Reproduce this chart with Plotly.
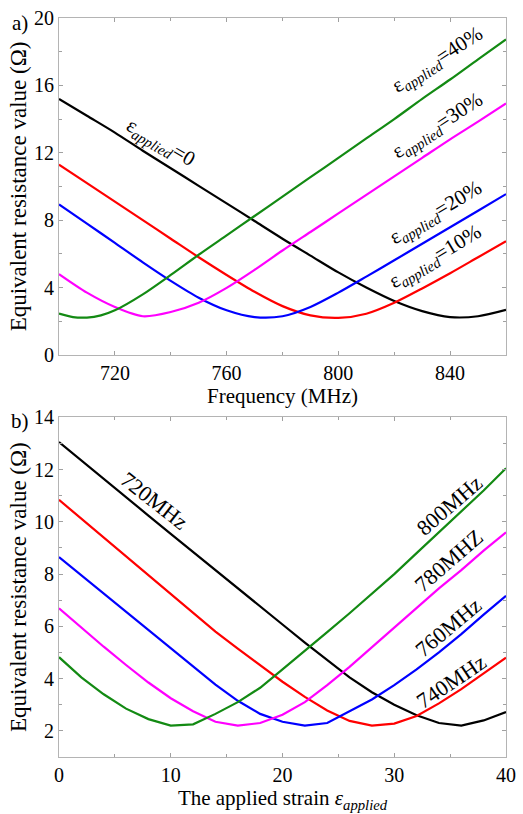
import plotly.graph_objects as go

# ---------------- Data: panel a) ----------------
freq = [700, 710, 720, 730, 740, 750, 760, 770, 780, 790, 800, 810, 820, 830, 840, 850, 860]
r_strain0 = [15.2, 14.2, 13.2, 12.12, 11.08, 10.04, 9.0, 7.95, 6.9, 5.9, 4.9, 4.0, 3.2, 2.6, 2.25, 2.3, 2.68]
r_strain10 = [11.3, 10.2, 9.1, 8.0, 6.9, 5.8, 4.75, 3.75, 2.9, 2.35, 2.2, 2.45, 3.1, 3.95, 4.85, 5.8, 6.75]
r_strain20 = [8.93, 7.8, 6.65, 5.5, 4.4, 3.4, 2.65, 2.25, 2.3, 2.85, 3.7, 4.65, 5.62, 6.6, 7.58, 8.56, 9.55]
r_strain30 = [4.8, 3.7, 2.85, 2.3, 2.55, 3.1, 3.98, 5.05, 6.2, 7.3, 8.4, 9.5, 10.6, 11.7, 12.8, 13.85, 14.93]
freq_g = [700, 705, 710, 715, 720, 730, 740, 750, 760, 770, 780, 790, 800, 810, 820, 830, 840, 850, 860]
r_strain40 = [2.46, 2.25, 2.22, 2.35, 2.65, 3.6, 4.75, 5.95, 7.1, 8.25, 9.4, 10.55, 11.7, 12.85, 14.0, 15.2, 16.35, 17.55, 18.73]

# ---------------- Data: panel b) ----------------
strain = [0, 2, 4, 6, 8, 10, 12, 14, 16, 18, 20, 22, 24, 26, 28, 30, 32, 34, 36, 38, 40]
r_720 = [13.05, 12.34, 11.64, 10.94, 10.24, 9.54, 8.84, 8.14, 7.45, 6.76, 6.07, 5.38, 4.7, 4.05, 3.48, 3.0, 2.6, 2.3, 2.2, 2.4, 2.72]
r_740 = [10.84, 10.12, 9.4, 8.68, 7.96, 7.24, 6.52, 5.8, 5.15, 4.5, 3.88, 3.3, 2.78, 2.38, 2.2, 2.28, 2.57, 3.05, 3.6, 4.2, 4.8]
r_760 = [8.65, 7.95, 7.25, 6.55, 5.85, 5.15, 4.45, 3.77, 3.15, 2.65, 2.35, 2.2, 2.3, 2.75, 3.2, 3.75, 4.35, 5.0, 5.7, 6.45, 7.17]
r_780 = [6.69, 5.95, 5.22, 4.52, 3.85, 3.25, 2.75, 2.35, 2.2, 2.3, 2.62, 3.1, 3.75, 4.45, 5.2, 5.95, 6.7, 7.45, 8.15, 8.9, 9.6]
r_800 = [4.82, 4.05, 3.4, 2.85, 2.45, 2.2, 2.25, 2.65, 3.1, 3.65, 4.35, 5.05, 5.78, 6.5, 7.25, 8.0, 8.8, 9.6, 10.4, 11.2, 12.05]

top_labels = ["ε<sub><i>applied</i></sub>=0", "ε<sub><i>applied</i></sub>=10%", "ε<sub><i>applied</i></sub>=20%",
              "ε<sub><i>applied</i></sub>=30%", "ε<sub><i>applied</i></sub>=40%"]
bot_labels = ["720MHz", "740MHz", "760MHz", "780MHZ", "800MHz"]

BLACK, RED, BLUE, PINK, GREEN = "#000000", "#ff0000", "#0000ff", "#ff00ff", "#138a13"
FONT = "Liberation Serif, Times New Roman, serif"

fig = go.Figure()
top_series = [(freq, r_strain0, BLACK), (freq, r_strain10, RED), (freq, r_strain20, BLUE),
              (freq, r_strain30, PINK), (freq_g, r_strain40, GREEN)]
for xs, ys, c in top_series:
    fig.add_trace(go.Scatter(x=xs, y=ys, mode="lines", line=dict(color=c, width=2.2, shape="spline", smoothing=0.8),
                             xaxis="x", yaxis="y", showlegend=False))
bot_series = [(r_720, BLACK), (r_740, RED), (r_760, BLUE), (r_780, PINK), (r_800, GREEN)]
for ys, c in bot_series:
    fig.add_trace(go.Scatter(x=strain, y=ys, mode="lines", line=dict(color=c, width=2.2),
                             xaxis="x2", yaxis="y2", showlegend=False))

axis_common = dict(showline=True, linecolor="#b4b4b4", linewidth=1.2, mirror="ticks", ticks="inside",
                   tickcolor="#a0a0a0", ticklen=4, showgrid=False, zeroline=False, ticklabeloverflow="allow",
                   tickfont=dict(family=FONT, size=20, color="black"))

fig.update_layout(
    width=523, height=814, margin=dict(l=59, r=7, t=13, b=57),
    paper_bgcolor="white", plot_bgcolor="white",
    font=dict(family=FONT, color="black"),
    xaxis=dict(domain=[0, 1], anchor="y", range=[700, 860], dtick=40, tick0=720,
               minor=dict(dtick=20, ticks="inside", ticklen=3, tickcolor="#a0a0a0"),
               title=dict(text="Frequency (MHz)", font=dict(family=FONT, size=21), standoff=0), **axis_common),
    yaxis=dict(domain=[0.544, 1], anchor="x", range=[0, 20], dtick=4,
               minor=dict(dtick=2, ticks="inside", ticklen=3, tickcolor="#a0a0a0"),
               title=dict(text="Equivalent resistance value (Ω)", font=dict(family=FONT, size=23), standoff=0), **axis_common),
    xaxis2=dict(domain=[0, 1], anchor="y2", range=[0, 40], dtick=10,
                minor=dict(dtick=5, ticks="inside", ticklen=3, tickcolor="#a0a0a0"),
                title=dict(text="The applied strain <i>ε<sub>applied</sub></i>", font=dict(family=FONT, size=21), standoff=0),
                **axis_common),
    yaxis2=dict(domain=[0, 0.4597], anchor="x2", range=[1, 14], dtick=2, tick0=0,
                minor=dict(dtick=1, ticks="inside", ticklen=3, tickcolor="#a0a0a0"),
                title=dict(text="Equivalent resistance value (Ω)", font=dict(family=FONT, size=23), standoff=0), **axis_common),
)

# panel tags
fig.add_annotation(text="a)", xref="paper", yref="paper", x=-0.088, y=0.993, showarrow=False,
                   font=dict(family=FONT, size=21), xanchor="center", yanchor="middle")
fig.add_annotation(text="b)", xref="paper", yref="paper", x=-0.088, y=0.455, showarrow=False,
                   font=dict(family=FONT, size=21), xanchor="center", yanchor="middle")

# curve labels, panel a)
top_pos = [(736.5, 12.6, 30), (834.8, 5.8, -31), (834.8, 8.45, -31), (835.5, 13.6, -33), (835.5, 17.5, -33)]
for txt, (x, y, a) in zip(top_labels, top_pos):
    fig.add_annotation(text=txt, x=x, y=y, xref="x", yref="y", showarrow=False, textangle=a,
                       font=dict(family=FONT, size=21), xanchor="center", yanchor="middle")

# curve labels, panel b)
bot_pos = [(8.5, 10.8, 38), (35.1, 3.9, -34), (34.8, 5.97, -40), (34.9, 8.51, -41), (34.9, 10.64, -41)]
for txt, (x, y, a) in zip(bot_labels, bot_pos):
    fig.add_annotation(text=txt, x=x, y=y, xref="x2", yref="y2", showarrow=False, textangle=a,
                       font=dict(family=FONT, size=22), xanchor="center", yanchor="middle")

fig.write_html("out.html")
